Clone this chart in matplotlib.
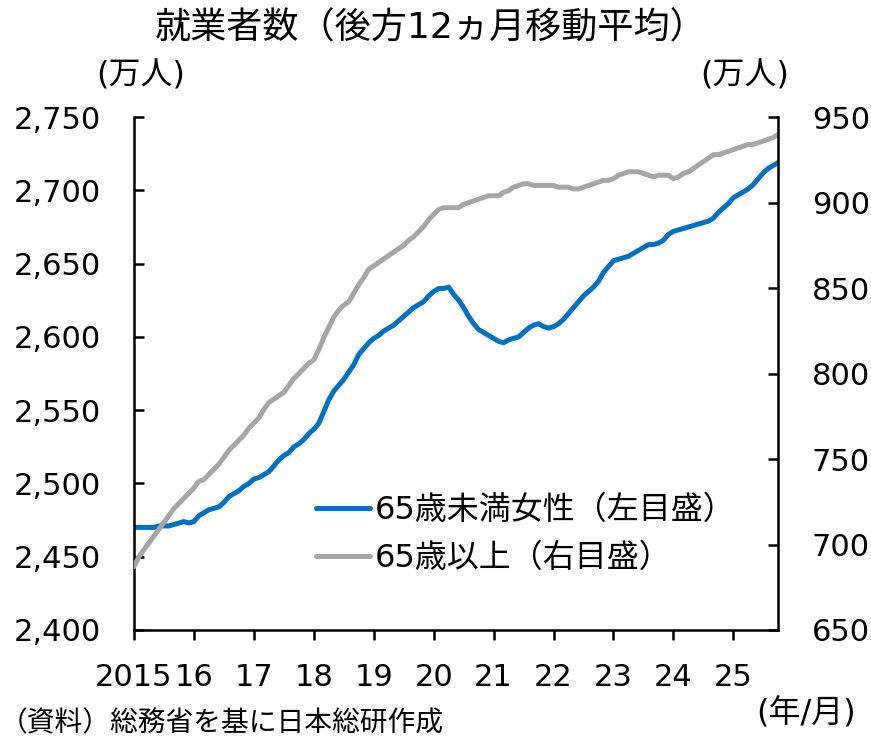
import numpy as np
import matplotlib
matplotlib.use('Agg')
import matplotlib.pyplot as plt

# Latin digits from DejaVu Sans (Verdana-like), Japanese from Noto Sans CJK JP
plt.rcParams['font.family'] = ['DejaVu Sans', 'Noto Sans CJK JP']

# Monthly data, Jan 2015 onwards (12-month trailing moving average, 万人)
women_under65 = [
    2470, 2470, 2470, 2470, 2470, 2471, 2471, 2471, 2472, 2473,
    2474, 2473, 2474, 2478, 2480, 2482, 2483, 2484, 2487, 2491,
    2493, 2495, 2498, 2500, 2503, 2504, 2506, 2508, 2512, 2516,
    2519, 2521, 2525, 2527, 2530, 2534, 2537, 2541, 2549, 2557,
    2563, 2567, 2571, 2576, 2581, 2588, 2592, 2596, 2599, 2601,
    2604, 2606, 2608, 2611, 2614, 2617, 2620, 2622, 2624, 2628,
    2631, 2633, 2633, 2634, 2629, 2625, 2620, 2614, 2609, 2605,
    2603, 2601, 2599, 2597, 2596, 2598, 2599, 2600, 2603, 2606,
    2608, 2609, 2607, 2606, 2607, 2609, 2612, 2616, 2620, 2624,
    2628, 2631, 2634, 2638, 2644, 2648, 2652, 2653, 2654, 2655,
    2657, 2659, 2661, 2663, 2663, 2664, 2666, 2670, 2672, 2673,
    2674, 2675, 2676, 2677, 2678, 2679, 2681, 2685, 2688, 2691,
    2695, 2697, 2699, 2701, 2704, 2708, 2712, 2715, 2717, 2719,
]
age65_over = [
    687, 693, 697, 701, 705, 709, 713, 717, 721, 724,
    727, 730, 733, 737, 738, 741, 744, 747, 751, 755,
    758, 761, 764, 768, 771, 774, 779, 783, 785, 787,
    789, 793, 797, 800, 803, 806, 808, 814, 821, 827,
    833, 837, 840, 842, 847, 852, 856, 861, 863, 865,
    867, 869, 871, 873, 875, 878, 880, 883, 886, 890,
    893, 896, 897, 897, 897, 897, 899, 900, 901, 902,
    903, 904, 904, 904, 906, 907, 909, 910, 911, 911,
    910, 910, 910, 910, 910, 909, 909, 909, 908, 908,
    909, 910, 911, 912, 913, 913, 914, 916, 917, 918,
    918, 918, 917, 916, 915, 916, 916, 916, 914, 915,
    917, 918, 920, 922, 924, 926, 928, 928, 929, 930,
    931, 932, 933, 934, 934, 935, 936, 937, 938, 940,
]
year_labels = ['2015', '16', '17', '18', '19', '20', '21', '22', '23', '24', '25']
left_ticks = [2400, 2450, 2500, 2550, 2600, 2650, 2700, 2750]
right_ticks = [650, 700, 750, 800, 850, 900, 950]

months = np.arange(len(women_under65))

fig = plt.figure(figsize=(8.71, 7.41), dpi=100)
ax = fig.add_axes([0.1538, 0.1498, 0.7398, 0.6922])
ax2 = ax.twinx()

blue = '#0070C0'
gray = '#A6A6A6'
ax.plot(months, women_under65, color=blue, lw=3.6, solid_capstyle='round',
        label='65歳未満女性（左目盛）')
ax2.plot(months, age65_over, color=gray, lw=3.6, solid_capstyle='round',
         label='65歳以上（右目盛）')

ax.set_xlim(0, months[-1])
ax.set_ylim(2400, 2750)
ax2.set_ylim(650, 950)

ax.set_xticks(np.arange(0, len(months), 12))
ax.set_xticklabels(year_labels)
ax.set_yticks(left_ticks)
ax.set_yticklabels([f'{v:,}' for v in left_ticks])
ax2.set_yticks(right_ticks)
ax2.set_yticklabels([str(v) for v in right_ticks])

for a in (ax, ax2):
    for s in a.spines.values():
        s.set_visible(False)
ax.spines['left'].set_visible(True)
ax.spines['bottom'].set_visible(True)
ax2.spines['right'].set_visible(True)
for s in (ax.spines['left'], ax.spines['bottom'], ax2.spines['right']):
    s.set_linewidth(1.8)
    s.set_color('black')

ax.tick_params(axis='y', direction='in', length=7, width=1.8, pad=24, labelsize=22)
ax.tick_params(axis='x', direction='out', length=7, width=1.8, pad=17, labelsize=22)
ax2.tick_params(axis='y', direction='in', length=7, width=1.8, pad=24, labelsize=22)

h1, l1 = ax.get_legend_handles_labels()
h2, l2 = ax2.get_legend_handles_labels()
ax2.legend(h1 + h2, l1 + l2, loc='center left', bbox_to_anchor=(0.282, 0.186),
           frameon=False, fontsize=23, handlelength=1.7, handletextpad=0.15,
           labelspacing=0.55, borderaxespad=0, borderpad=0)

fig.text(0.494, 0.962, '就業者数（後方12ヵ月移動平均）', ha='center', va='center', fontsize=26)
fig.text(0.161, 0.898, '(万人)', ha='center', va='center', fontsize=23)
fig.text(0.855, 0.898, '(万人)', ha='center', va='center', fontsize=23)
fig.text(0.925, 0.037, '(年/月)', ha='center', va='center', fontsize=23)
fig.text(0.0, 0.024, '（資料）総務省を基に日本総研作成', ha='left', va='center', fontsize=20)

fig.savefig('out.png', dpi=100)
